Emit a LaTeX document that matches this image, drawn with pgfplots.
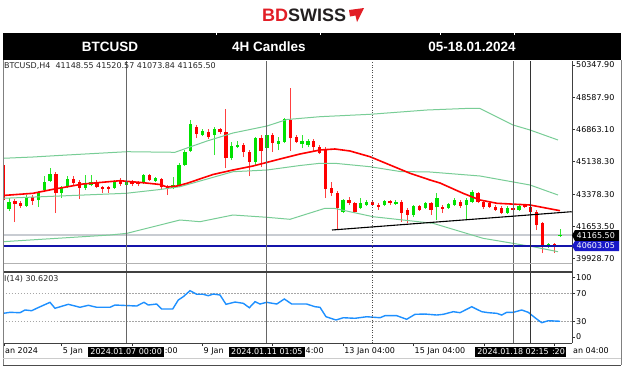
\documentclass[border=0pt]{standalone}
\usepackage{pgfplots}
\pgfplotsset{compat=1.18}
\usepackage{pgfplotstable}
\usepackage{fontspec}
\setmainfont{DejaVu Sans}
\newfontfamily\hdr{Liberation Sans}
\definecolor{cRed}{RGB}{255,0,0}
\definecolor{cGrn}{RGB}{0,225,0}
\definecolor{band}{RGB}{120,205,150}
\definecolor{rsiblue}{RGB}{30,144,255}
\definecolor{lvlblue}{RGB}{20,20,170}
\definecolor{boxblue}{RGB}{25,25,200}
\definecolor{bidgray}{RGB}{200,204,210}
\definecolor{bdred}{RGB}{226,30,38}
\definecolor{bddark}{RGB}{35,31,32}
\newcommand\mt{\fontsize{8}{9.5}\selectfont}

\pgfplotstableread{
i o h l c
-1 44957.9 45389.1 42640.2 43071.4
1 43017.5 43125.3 41885.6 42855.8
2 42909.7 43017.5 42640.2 42748.0
4 43233.1 43340.9 42801.9 43017.5
8 44472.8 44580.6 42370.7 43448.7
11 44203.3 44365.0 43879.9 43987.7
12 44041.6 44149.4 43125.3 43718.2
15 44041.6 44149.4 43718.2 43772.1
16 43772.1 43826.0 43448.7 43691.3
17 43772.1 43826.0 43448.7 43664.3
19 44149.4 44257.2 43826.0 43933.8
21 44095.5 44149.4 43826.0 43933.8
22 44041.6 44095.5 43826.0 43933.8
24 44418.9 44472.8 44095.5 44149.4
26 44203.3 44257.2 43610.4 43772.1
27 43772.1 43879.9 43340.9 43664.3
32 47006.1 47113.9 46413.2 46628.8
34 46736.6 46898.3 46359.3 46467.1
36 46898.3 46952.2 46628.8 46736.6
37 46736.6 47976.3 44796.2 45335.2
40 46035.9 46143.7 45389.1 45658.6
41 45658.6 45766.4 44365.0 45119.6
43 46413.2 46574.9 44850.1 45712.5
45 46574.9 46682.7 45658.6 46143.7
48 47383.4 49108.2 45712.5 46413.2
49 46467.1 46574.9 46143.7 46197.6
52 46251.5 46359.3 45658.6 45928.1
53 45928.1 46035.9 45550.8 45604.7
54 45766.4 45928.1 43179.2 43664.3
55 43718.2 44041.6 43287.0 43448.7
56 43448.7 43556.5 41454.4 42640.2
58 43071.4 43233.1 42801.9 42909.7
59 42909.7 42963.6 42370.7 42424.6
62 42963.6 43017.5 42748.0 42801.9
63 42801.9 42909.7 42532.4 42694.1
65 43017.5 43071.4 42801.9 42909.7
67 42963.6 43071.4 41885.6 42370.7
68 42532.4 42640.2 41831.7 42262.9
70 42748.0 42801.9 42478.5 42532.4
72 42909.7 42963.6 42262.9 42532.4
74 42694.1 42801.9 42370.7 42586.3
77 42963.6 43071.4 42640.2 42748.0
80 43448.7 43502.6 42909.7 42963.6
81 42963.6 43071.4 42586.3 42694.1
82 42909.7 42963.6 42640.2 42694.1
83 42694.1 42801.9 42478.5 42559.4
84 42640.2 42748.0 42316.8 42370.7
86 42640.2 42694.1 42478.5 42559.4
88 42801.9 42855.8 42640.2 42694.1
89 42694.1 42801.9 42370.7 42424.6
90 42424.6 42532.4 41454.4 41723.9
91 41831.7 41885.6 40214.7 40645.9
93 40699.8 40753.7 40214.7 40645.9
}\redc

\pgfplotstableread{
i o h l c
0 42586.3 43179.2 42478.5 42963.6
3 42748.0 43340.9 42694.1 43233.1
5 43071.4 43556.5 42694.1 43448.7
6 43610.4 44365.0 43502.6 44041.6
7 44095.5 44796.2 44041.6 44472.8
9 43448.7 43826.0 43179.2 43718.2
10 43772.1 44365.0 43718.2 44203.3
13 43718.2 44418.9 43610.4 43987.7
14 43879.9 44418.9 43826.0 44041.6
18 43718.2 44149.4 43664.3 44041.6
20 43879.9 44149.4 43826.0 44041.6
23 43987.7 44472.8 43933.8 44418.9
25 44095.5 44311.1 44041.6 44257.2
28 43718.2 44311.1 43664.3 43879.9
29 43879.9 45065.7 43772.1 44957.9
30 44957.9 45766.4 44904.0 45658.6
31 45712.5 47383.4 45658.6 47167.8
33 46574.9 46898.3 46521.0 46790.5
35 46574.9 47006.1 45496.9 46898.3
38 45335.2 46197.6 45227.4 45982.0
39 45928.1 46251.5 45874.2 46035.9
42 45119.6 46467.1 44957.9 46413.2
44 45874.2 46628.8 45766.4 46574.9
46 46089.8 46467.1 45766.4 46251.5
47 46197.6 47491.2 46143.7 47437.3
50 46089.8 46574.9 45874.2 46251.5
51 46035.9 46359.3 45928.1 46251.5
57 42424.6 43125.3 42370.7 43071.4
60 42640.2 43179.2 42586.3 42909.7
61 42801.9 43071.4 42748.0 42963.6
64 42801.9 43071.4 42748.0 43017.5
66 42855.8 43071.4 42801.9 42963.6
69 42262.9 42801.9 42155.1 42748.0
71 42640.2 42963.6 42586.3 42909.7
73 42694.1 43448.7 41993.4 43179.2
75 42640.2 42909.7 42586.3 42855.8
76 42801.9 43179.2 42748.0 43071.4
78 42801.9 43179.2 42047.3 43071.4
79 42963.6 43610.4 42909.7 43502.6
85 42370.7 42748.0 42316.8 42640.2
87 42532.4 42801.9 42478.5 42748.0
92 40592.0 40753.7 40484.2 40699.8
94 41148.55 41520.57 41073.84 41165.50
}\grnc

\pgfplotsset{
 candlewick/.style={draw=none, mark=none, forget plot,
   error bars/.cd, y dir=plus, y explicit, error mark=none,
   error bar style={draw=#1, line width=0.9pt, solid}},
 candlebody/.style={draw=none, mark=none, forget plot,
   error bars/.cd, y dir=plus, y explicit, error mark=none,
   error bar style={draw=#1, line width=3.3pt, solid}},
}

\begin{document}
\begin{tikzpicture}
\begin{scope}[x=1pt,y=-1pt]
\fill[white] (0,0) rectangle (624,367);
\end{scope}

% ---------------- main price panel ----------------
\begin{axis}[
  at={(3pt,-263pt)}, anchor=south west,
  width=569pt, height=202pt, scale only axis,
  xmin=-1.0235, xmax=96.04, ymin=39675.7, ymax=50563.5,
  axis x line=none, axis y line*=right,
  axis line style={-, draw=black!75, line width=0.8pt},
  ytick={39928.7,41653.5,43378.3,45138.3,46863.1,48587.9,50347.9},
  yticklabels={39928.70,41653.50,43378.30,45138.30,46863.10,48587.90,50347.90},
  tick align=outside, major tick length=3pt,
  tick style={black!80, line width=0.6pt},
  yticklabel style={font=\mt, inner sep=1pt},
  clip=true,
]
\addplot[bidgray, line width=1.8pt, forget plot] coordinates {(-1.0235,41165.5) (96.04,41165.5)};
\addplot[candlewick=cRed!75] table[x=i, y=l, y error expr={\thisrow{h}-\thisrow{l}}] {\redc};
\addplot[candlewick=cGrn!80] table[x=i, y=l, y error expr={\thisrow{h}-\thisrow{l}}] {\grnc};
\addplot[candlebody=cRed] table[x=i, y expr={min(\thisrow{o},\thisrow{c})}, y error expr={max(abs(\thisrow{o}-\thisrow{c}),40)}] {\redc};
\addplot[candlebody=cGrn] table[x=i, y expr={min(\thisrow{o},\thisrow{c})}, y error expr={max(abs(\thisrow{o}-\thisrow{c}),40)}] {\grnc};
% Bollinger bands (upper, middle, lower)
\addplot[band, line width=1pt] coordinates {(-1.02,45319.0) (4.09,45389.1) (9.89,45496.9) (20.13,45674.8) (28.32,45642.4) (30.37,45874.2) (33.78,46251.5) (38.21,46682.7) (44.01,47060.0) (47.42,47410.4) (53.05,47561.3) (61.58,47690.6) (71.31,47922.4) (78.64,48014.0) (80.35,48003.2) (85.98,47113.9) (88.88,46844.4) (93.65,46305.4)};
\addplot[band, line width=1pt] coordinates {(-1.02,43163.0) (19.96,43432.5) (25.76,43637.4) (29.17,43788.3) (38.21,44596.8) (44.01,44688.4) (49.64,44930.9) (53.05,45049.5) (55.61,45049.5) (61.58,44866.3) (66.70,44607.6) (71.82,44580.6) (80.35,44365.0) (88.88,43879.9) (93.65,43340.9)};
\addplot[band, line width=1pt] coordinates {(-1.02,40823.8) (17.23,41184.9) (20.13,41276.5) (29.17,41993.4) (32.58,41901.8) (38.21,42262.9) (44.01,42138.9) (47.94,42031.1) (51.35,42370.7) (53.91,42624.0) (55.61,42613.2) (62.09,42171.2) (72.33,41815.5) (80.86,41007.0) (89.39,40554.3) (93.65,40284.8)};
% moving average
\addplot[cRed, line width=1.6pt] coordinates {(-1.02,43314.0) (4.09,43432.5) (7.51,43648.1) (12.62,43933.8) (18.94,44111.7) (22.86,44003.9) (25.76,43906.9) (26.95,43772.1) (28.66,43826.0) (30.37,43971.5) (34.80,44445.9) (38.21,44688.4) (41.62,44904.0) (46.23,45281.3) (49.64,45550.8) (53.05,45766.4) (55.61,45820.3) (58.17,45712.5) (61.58,45405.3) (68.41,44510.6) (71.82,44149.4) (73.52,43987.7) (77.45,43432.5) (80.35,43071.4) (83.25,42893.6) (88.88,42801.9) (94.0,42494.7)};
\addplot[lvlblue, line width=1.5pt] coordinates {(-1.0235,40603.05) (96.04,40603.05)};
% vertical lines
\addplot[black!60, line width=1pt] coordinates {(20,39675.7) (20,50563.5)};
\addplot[black!60, line width=1pt] coordinates {(44,39675.7) (44,50563.5)};
\addplot[black!70, line width=0.9pt, dash pattern=on 1pt off 1.5pt] coordinates {(62,39675.7) (62,50563.5)};
\addplot[black!60, line width=1pt] coordinates {(86,39675.7) (86,50563.5)};
\addplot[black!80, line width=1pt] coordinates {(89,39675.7) (89,50563.5)};
% trendline
\addplot[black, line width=1.1pt] coordinates {(55.1,41454.4) (95.99,42440.8)};
\end{axis}

% ---------------- RSI panel ----------------
\begin{axis}[
  at={(3pt,-343pt)}, anchor=south west,
  width=569pt, height=71pt, scale only axis,
  xmin=-1.0235, xmax=96.04, ymin=0, ymax=100,
  axis x line*=bottom, axis y line*=right,
  axis line style={-, draw=black!75, line width=0.8pt},
  ytick={92.5,70,30,8.5}, yticklabels={100,70,30,0},
  xtick={-0.85,9,21,33,45,57,69,81,93},
  xticklabels={an 2024,5 Jan,,9 Jan,,13 Jan 04:00,15 Jan 04:00,,},
  tick align=outside, major tick length=3pt,
  tick style={black!80, line width=0.6pt},
  yticklabel style={font=\mt, inner sep=1pt},
  xticklabel style={font=\mt, inner sep=1pt, anchor=north west, text height=6pt, text depth=1.5pt},
  clip=false,
]
\addplot[black!35, line width=0.7pt, dash pattern=on 1.5pt off 1.5pt] coordinates {(-1.0235,70) (96.04,70)};
\addplot[black!35, line width=0.7pt, dash pattern=on 1.5pt off 1.5pt] coordinates {(-1.0235,30) (96.04,30)};
\addplot[rsiblue, line width=1.4pt] coordinates {(-0.97,41.8) (0.17,43.2) (1.88,42.7) (2.73,46.5) (3.87,45.5) (4.73,48.9) (6.99,57.3) (7.85,48.9) (10.12,54.5) (12.11,50.3) (13.53,53.1) (14.96,50.3) (17.23,50.3) (18.08,53.5) (21.78,52.1) (23.03,57.3) (23.76,53.5) (25.2,54.9) (26.05,47.9) (27.93,47.9) (28.88,60.6) (29.73,65.2) (30.88,73.7) (32.02,68.6) (33.15,68.6) (34.0,66.6) (34.85,69.0) (36.0,67.6) (37.02,54.5) (38.55,57.7) (39.97,55.9) (41.0,49.7) (41.97,58.2) (42.82,54.9) (43.96,57.3) (45.67,54.9) (46.96,62.0) (48.23,54.9) (50.78,54.9) (52.2,51.1) (53.05,50.3) (54.08,37.0) (55.78,32.4) (57.03,35.6) (59.02,34.8) (61.02,37.0) (63.29,35.6) (64.14,38.5) (66.14,38.5) (67.84,33.4) (69.26,40.4) (70.97,40.8) (72.96,39.4) (74.09,40.4) (75.79,44.1) (76.94,42.7) (78.93,51.1) (80.64,44.1) (81.77,42.7) (83.2,41.8) (84.05,39.4) (84.9,43.2) (86.03,43.2) (87.46,46.5) (88.59,43.2) (89.73,35.6) (90.87,28.6) (92.0,31.4) (94.0,30.62)};
\addplot[black!60, line width=1pt] coordinates {(20,0) (20,112.7)};
\addplot[black!60, line width=1pt] coordinates {(44,0) (44,112.7)};
\addplot[black!70, line width=0.9pt, dash pattern=on 1pt off 1.5pt] coordinates {(62,0) (62,112.7)};
\addplot[black!60, line width=1pt] coordinates {(86,0) (86,112.7)};
\addplot[black!80, line width=1pt] coordinates {(89,0) (89,112.7)};
\end{axis}

\begin{scope}[x=1pt,y=-1pt]
% frame & separators
\draw[black!30, line width=0.8pt] (3,263) -- (572,263);
\draw[black!75, line width=1.4pt] (3,272) -- (572,272);
\draw[black!75, line width=0.8pt] (572,263) -- (572,272);
\draw[black!50, line width=0.8pt] (3,60) -- (3,365);
\draw[black!50, line width=0.8pt] (621,60) -- (621,365);
\draw[black!20, line width=0.6pt] (3,358) -- (621,358);
\draw[black!70, line width=0.8pt] (3,365) -- (621,365);
% header bar
\fill[black] (3,33) rectangle (621,59.5);
\foreach \xx in {216,320,440,514} \draw[white, line width=0.8pt] (\xx,33) -- (\xx,35);
\node[text=white, font=\hdr\bfseries\fontsize{13.5}{14}\selectfont] at (110,46.5) {BTCUSD};
\node[text=white, font=\hdr\bfseries\fontsize{13.5}{14}\selectfont] at (269,46.5) {4H Candles};
\node[text=white, font=\hdr\bfseries\fontsize{13.5}{14}\selectfont] at (472,46.5) {05-18.01.2024};
% logo
\node[anchor=base west, inner sep=0pt, font=\hdr\bfseries\fontsize{18}{18}\selectfont] at (262,21.7) {\textcolor{bdred}{BD}\textcolor{bddark}{SWISS}};
\fill[bdred] (349,10) -- (364,8) -- (357,22) -- (355.5,15.5) -- (350,16.5) -- cycle;
% chart texts
\node[anchor=west, inner sep=0pt, font=\mt, text=black!85] at (4,66) {BTCUSD,H4\ \ 41148.55 41520.57 41073.84 41165.50};
\node[anchor=west, inner sep=0pt, font=\mt, text=black!85] at (4,278.5) {I(14) 30.6203};
% price boxes
\fill[black] (572,235.4) -- (575,230) -- (619,230) -- (619,241) -- (575,241) -- cycle;
\node[text=white, font=\mt, anchor=west, inner sep=0pt] at (576.5,235.6) {41165.50};
\fill[boxblue] (572,245.8) -- (575,241) -- (619,241) -- (619,251) -- (575,251) -- cycle;
\node[text=white, font=\mt, anchor=west, inner sep=0pt] at (576.5,246) {40603.05};
% time boxes and the visible rests of the covered time labels
\node[fill=black, text=white, font=\mt, inner xsep=2pt, inner ysep=1.5pt, text height=6pt, text depth=1.5pt] at (126.2,352) {2024.01.07 00:00};
\node[anchor=base west, inner sep=0pt, font=\mt] at (164.6,353) {:00};
\node[fill=black, text=white, font=\mt, inner xsep=2pt, inner ysep=1.5pt, text height=6pt, text depth=1.5pt] at (266.9,352) {2024.01.11 01:05};
\node[anchor=base west, inner sep=0pt, font=\mt] at (305.5,353) {4:00};
\node[fill=black, text=white, font=\mt, inner xsep=2pt, inner ysep=1.5pt, text height=6pt, text depth=1.5pt] at (513.1,352) {2024.01.18 02:15};
\node[fill=black, text=white, font=\mt, anchor=west, inner xsep=1pt, inner ysep=1.5pt, text height=6pt, text depth=1.5pt] at (550.8,352) {:20};
\node[anchor=base west, inner sep=0pt, font=\mt] at (573,353) {an 04:00};
\end{scope}
\pgfresetboundingbox
\useasboundingbox (0pt,0pt) rectangle (624pt,-367pt);
\end{tikzpicture}
\end{document}
